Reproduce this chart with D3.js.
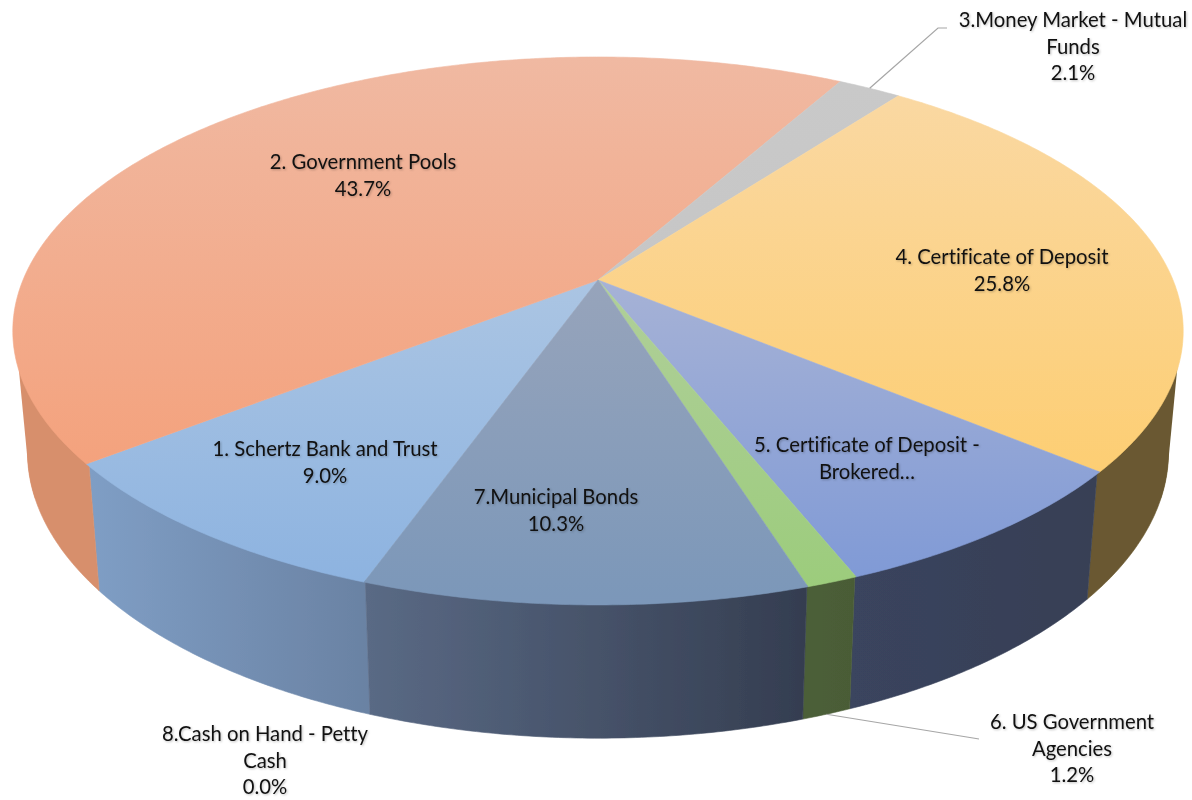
<!DOCTYPE html>
<html>
<head>
<meta charset="utf-8">
<script src="https://cdn.jsdelivr.net/npm/d3@7"></script>
<style>
body { margin: 0; background: #fff; }
text { font-family: Lato, "Open Sans", sans-serif; font-size: 20.3px; fill: #111; text-anchor: middle;
	font-variant-ligatures: none;
	filter: drop-shadow(1px 1px 1px rgba(0,0,0,.25)); }
</style>
</head>
<body>
<div id="chart"></div>
<script>
var categories = ["1. Schertz Bank and Trust", "2. Government Pools", "3.Money Market - Mutual Funds", "4. Certificate of Deposit", "5. Certificate of Deposit - Brokered...", "6. US Government Agencies", "7.Municipal Bonds", "8.Cash on Hand - Petty Cash"];
var shares = [9.0, 43.7, 2.1, 25.8, 7.9, 1.2, 10.3, 0.0];
var labelLines = [
	["1. Schertz Bank and Trust", "9.0%"],
	["2. Government Pools", "43.7%"],
	["3.Money Market - Mutual", "Funds", "2.1%"],
	["4. Certificate of Deposit", "25.8%"],
	["5. Certificate of Deposit -", "Brokered…"],
	["6. US Government", "Agencies", "1.2%"],
	["7.Municipal Bonds", "10.3%"],
	["8.Cash on Hand - Petty", "Cash", "0.0%"]
];

var labelX = [325, 363, 1073, 1002, 867, 1072, 556, 265];
var labelY = [449, 162, 20, 257, 445, 722, 497, 734];
var lineGap = 26.7;

// top colour, bottom colour of each slice face
var faceTop = ["#abc5e3", "#f0b9a2", "#c9c9c9", "#fad8a2", "#a6b2d6", "#b0cf9a", "#97a4bb", "#999999"];
var faceBottom = ["#8db3e0", "#f4a27d", "#c6c6c6", "#fdce73", "#809ad6", "#9ccc7c", "#7b97b9", "#999999"];
// left colour, right colour of each side wall
var wallLeft = ["#7f9ec5", "#d78f6c", "#8a8a8a", "#6b5930", "#3a445e", "#4c5f38", "#5a6a85", "#666666"];
var wallRight = ["#6a82a3", "#d78f6c", "#8a8a8a", "#6b5930", "#373f55", "#4a5c36", "#343d50", "#666666"];

var width = 1192, height = 800;
var tilt = 0.186;  // perspective of the disc

var xTop = d3.scaleLinear().domain([-1, 1]).range([23, 1173]);
var yTop = d3.scaleLinear().domain([-1, 1]).range([15.5, 544.5]);
var xBottom = d3.scaleLinear().domain([-1, 1]).range([37.4, 1158.6]);
var yBottom = d3.scaleLinear().domain([-1, 1]).range([122, 675]);

// angle clockwise from the back of the disc -> flat coords after perspective
function flat(a) {
	var d = 1 - tilt * -Math.cos(a);
	return [Math.sin(a) / d, -Math.cos(a) / d];
}
function topPt(a) { var p = flat(a); return [xTop(p[0]), yTop(p[1])]; }
function bottomPt(a) { var p = flat(a); return [xBottom(p[0]), yBottom(p[1])]; }
// just inside the rim, so the wall stroke stays under the top face
function innerPt(a) { var p = flat(a); return [xTop(p[0] * 0.995), yTop(p[1] * 0.995)]; }

var rad = Math.PI / 180;
var pie = d3.pie().sort(null).value(function(d) { return d; })
	.startAngle(199.6 * rad).endAngle(559.6 * rad);
var slices = pie(shares);

function steps(a0, a1) {
	var n = Math.max(2, Math.ceil(Math.abs(a1 - a0) / (0.5 * rad)));
	return d3.range(n + 1).map(function(i) { return a0 + (a1 - a0) * i / n; });
}

var line = d3.line();
var svg = d3.select("#chart").append("svg").attr("width", width).attr("height", height);
var defs = svg.append("defs");
defs.append("filter").attr("id", "soft").attr("x", "-2%").attr("y", "-2%").attr("width", "104%").attr("height", "104%")
	.append("feGaussianBlur").attr("stdDeviation", 0.5);

slices.forEach(function(s, i) {
	var g = defs.append("linearGradient").attr("id", "face" + i).attr("x1", 0).attr("y1", 0).attr("x2", 0).attr("y2", 1);
	g.append("stop").attr("offset", 0).attr("stop-color", faceTop[i]);
	g.append("stop").attr("offset", 1).attr("stop-color", faceBottom[i]);
	var w = defs.append("linearGradient").attr("id", "wall" + i).attr("x1", 0).attr("y1", 0).attr("x2", 1).attr("y2", 0);
	w.append("stop").attr("offset", 0).attr("stop-color", wallLeft[i]);
	w.append("stop").attr("offset", 1).attr("stop-color", wallRight[i]);
});

var pieLayer = svg.append("g").attr("filter", "url(#soft)");

// only the front of the wall can be seen, back part would sit under the top face
var wallFrom = 75 * rad, wallTo = 285 * rad;
var wallLayer = pieLayer.append("g");

// the straight silhouette at the far left and far right of the disc
[[1, 250, 290], [3, 70, 110]].forEach(function(e) {
	var rim = steps(e[1] * rad, e[2] * rad);
	var hull = d3.polygonHull(rim.map(innerPt).concat(rim.map(bottomPt)));
	wallLayer.append("path")
		.attr("d", line(hull) + "Z")
		.attr("fill", wallLeft[e[0]]);
});

slices.forEach(function(s, i) {
	if (s.value == 0) return;
	// slices that start past 360 are wrapped back so they can be clipped
	var a0 = s.startAngle, a1 = s.endAngle;
	if (a0 >= 360 * rad) { a0 -= 360 * rad; a1 -= 360 * rad; }
	a0 = Math.max(a0, wallFrom);
	a1 = Math.min(a1, wallTo);
	if (a1 <= a0) return;
	var rim = steps(a0, a1);
	var pts = rim.map(innerPt).concat(rim.slice().reverse().map(bottomPt));
	wallLayer.append("path")
		.attr("d", line(pts) + "Z")
		.attr("fill", "url(#wall" + i + ")")
		.attr("stroke", "url(#wall" + i + ")")
		.attr("stroke-width", 0.6);
});

var faceLayer = pieLayer.append("g");
var hub = [xTop(0), yTop(0)];
slices.forEach(function(s, i) {
	if (s.value == 0) return;
	var pts = [hub].concat(steps(s.startAngle, s.endAngle).map(topPt));
	faceLayer.append("path")
		.attr("d", line(pts) + "Z")
		.attr("fill", "url(#face" + i + ")")
		.attr("stroke", "url(#face" + i + ")")
		.attr("stroke-width", 0.6);
});

// leader lines
var s3 = slices[2], s6 = slices[5];
var leader3 = [topPt((s3.startAngle + s3.endAngle) / 2), [938, 28], [947, 28]];
var leader6 = [bottomPt((s6.startAngle + s6.endAngle) / 2), [973, 738], [979, 739]];
[leader3, leader6].forEach(function(pts) {
	svg.append("path").attr("d", line(pts)).attr("fill", "none")
		.attr("stroke", "#a6a6a6").attr("stroke-width", 1.2);
});

labelLines.forEach(function(lines, i) {
	var t = svg.append("text").attr("x", labelX[i]).attr("y", labelY[i]);
	lines.forEach(function(txt, j) {
		t.append("tspan").attr("x", labelX[i]).attr("y", labelY[i] + j * lineGap + 7).text(txt);
	});
});
</script>
</body>
</html>
